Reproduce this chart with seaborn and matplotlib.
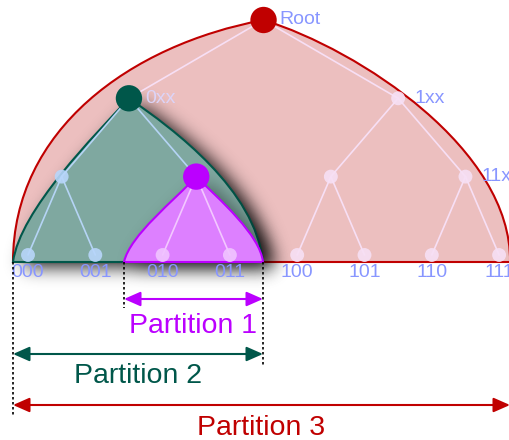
import matplotlib
matplotlib.use("Agg")
import matplotlib.pyplot as plt
from matplotlib.path import Path
from matplotlib.patches import PathPatch
import numpy as np
import seaborn as sns

# Daten: binaerer Baum mit 3 Ebenen
leaf_labels = ["000", "001", "010", "011", "100", "101", "110", "111"]
level2_labels = ["00x", "01x", "10x", "11x"]
level1_labels = ["0xx", "1xx"]
root_label = "Root"
shown_labels = ["Root", "0xx", "1xx", "11x"]

partition_names = ["Partition 1", "Partition 2", "Partition 3"]
partition_nodes = ["01x", "0xx", "Root"]

# Geometrie (Pixel)
W, H = 510, 440
LEAF_X0, LEAF_DX = 28, 67.3
LEVEL_Y = [20, 98.3, 176.6, 255]
BASE_Y = 262

c_red, c_green, c_mag = "#c00000", "#00574a", "#bb00ff"
fill_red, fill_green, fill_mag = "#ecbfbf", "#7fa8a0", "#dd80ff"
lab_col = "#8896ff"

sns.set_style("white")
plt.rcParams["font.family"] = ["Liberation Sans", "DejaVu Sans"]

# Knotenpositionen aus der Baumstruktur
pos = {}
for i, lab in enumerate(leaf_labels):
    pos[lab] = (LEAF_X0 + i * LEAF_DX, LEVEL_Y[3])
for i, lab in enumerate(level2_labels):
    pos[lab] = ((pos[leaf_labels[2 * i]][0] + pos[leaf_labels[2 * i + 1]][0]) / 2, LEVEL_Y[2])
for i, lab in enumerate(level1_labels):
    pos[lab] = ((pos[level2_labels[2 * i]][0] + pos[level2_labels[2 * i + 1]][0]) / 2, LEVEL_Y[1])
pos[root_label] = ((pos["0xx"][0] + pos["1xx"][0]) / 2, LEVEL_Y[0])

children = {root_label: level1_labels}
for i, lab in enumerate(level1_labels):
    children[lab] = level2_labels[2 * i:2 * i + 2]
for i, lab in enumerate(level2_labels):
    children[lab] = leaf_labels[2 * i:2 * i + 2]

region_of = {}
for lab in pos:
    region_of[lab] = "red"
for lab in ["0xx", "00x", "000", "001"]:
    region_of[lab] = "green"
for lab in ["01x", "010", "011"]:
    region_of[lab] = "mag"

edge_cols = {"red": "#f7dff5", "green": "#b5d4f5", "mag": "#f3c8ff"}
node_cols = {"red": "#f7e0f5", "green": "#b8d6fb", "mag": "#f0c4ff"}
big_cols = {"Root": c_red, "0xx": c_green, "01x": c_mag}


def region_path(x0, peak, x1, c1, c2, c3, c4):
    verts = [(x0, BASE_Y), c1, c2, peak, c3, c4, (x1, BASE_Y), (x0, BASE_Y), (x0, BASE_Y)]
    codes = [Path.MOVETO] + [Path.CURVE4] * 6 + [Path.LINETO, Path.CLOSEPOLY]
    return Path(verts, codes)


def shadow_image(path, dx=10, dy=5, sigma=9, amax=0.9):
    yy, xx = np.mgrid[0:H, 0:W] + 0.5
    pts = np.column_stack([xx.ravel() - dx, yy.ravel() - dy])
    mask = path.contains_points(pts).reshape(H, W).astype(float)
    r = np.arange(-3 * sigma, 3 * sigma + 1)
    k = np.exp(-r ** 2 / (2 * sigma ** 2))
    k /= k.sum()
    mask = np.apply_along_axis(lambda v: np.convolve(v, k, mode="same"), 1, mask)
    mask = np.apply_along_axis(lambda v: np.convolve(v, k, mode="same"), 0, mask)
    img = np.zeros((H, W, 4))
    img[..., 3] = mask * amax
    return img


rx, ry = pos["Root"]
gx, gy = pos["0xx"]
mx, my = pos["01x"]
p_red = region_path(13, (rx, ry), 510, (13, 130), (130, 45), (360, 50), (512, 150))
p_green = region_path(13, (gx, gy), 263, (20, 210), (95, 135), (175, 130), (255, 190))
p_mag = region_path(124, (mx, my), 263, (130, 235), (175, 200), (220, 200), (260, 235))

fig = plt.figure(figsize=(5.1, 4.4), dpi=100)
ax = fig.add_axes([0, 0, 1, 1])

ax.add_patch(PathPatch(p_red, facecolor=fill_red, edgecolor=c_red, lw=1.5, zorder=1))
ax.imshow(shadow_image(p_green), extent=(0, W, H, 0), zorder=2, interpolation="bilinear")
ax.add_patch(PathPatch(p_green, facecolor=fill_green, edgecolor=c_green, lw=1.5, zorder=3))
ax.imshow(shadow_image(p_mag, amax=0.45), extent=(0, W, H, 0), zorder=4, interpolation="bilinear")
ax.add_patch(PathPatch(p_mag, facecolor=fill_mag, edgecolor=c_mag, lw=1.5, zorder=5))

# Kanten
for parent, kids in children.items():
    for kid in kids:
        ax.plot([pos[parent][0], pos[kid][0]], [pos[parent][1], pos[kid][1]],
                color=edge_cols[region_of[parent]], lw=1.2, zorder=6, solid_capstyle="round")

# Knoten
small = [lab for lab in pos if lab not in big_cols]
sns.scatterplot(x=[pos[l][0] for l in small], y=[pos[l][1] for l in small],
                color=[node_cols[region_of[l]] for l in small], s=100, linewidth=0,
                alpha=0.9, ax=ax, zorder=7, legend=False)
sns.scatterplot(x=[pos[l][0] for l in big_cols], y=[pos[l][1] for l in big_cols],
                color=list(big_cols.values()), s=360, linewidth=0, ax=ax, zorder=8, legend=False)

# Beschriftungen
for lab in shown_labels:
    col = "#dcd4f8" if lab == "0xx" else lab_col
    ax.text(pos[lab][0] + 16, pos[lab][1], lab, color=col, fontsize=14,
            ha="left", va="center", zorder=9)
for lab in leaf_labels:
    ax.text(pos[lab][0], BASE_Y + 2, lab, color=lab_col, fontsize=14,
            ha="center", va="top", zorder=9)

# Partitionen
spans = [(124, 263), (13, 263), (13, 510)]
arrow_y = [299, 354, 405]
text_y = [333, 383, 435]
dash_end = [308, 367, 415]
p_cols = [c_mag, c_green, c_red]
for name, (x0, x1), ay, ty, col in zip(partition_names, spans, arrow_y, text_y, p_cols):
    ax.annotate("", xy=(x1, ay), xytext=(x0, ay),
                arrowprops=dict(arrowstyle="<|-|>,head_length=0.5,head_width=0.22",
                                color=col, lw=1.5, mutation_scale=20, shrinkA=0, shrinkB=0),
                zorder=9)
    ax.text((x0 + x1) / 2, ty, name, color=col, fontsize=20.5, ha="center", va="baseline", zorder=9)

for x, ye in zip([124, 263, 13], dash_end):
    ax.plot([x, x], [BASE_Y, ye], color="black", lw=1.2, ls=(0, (1.5, 1.5)), zorder=9)

ax.set_xlim(0, W)
ax.set_ylim(H, 0)
ax.axis("off")
fig.savefig("out.png", dpi=100)
